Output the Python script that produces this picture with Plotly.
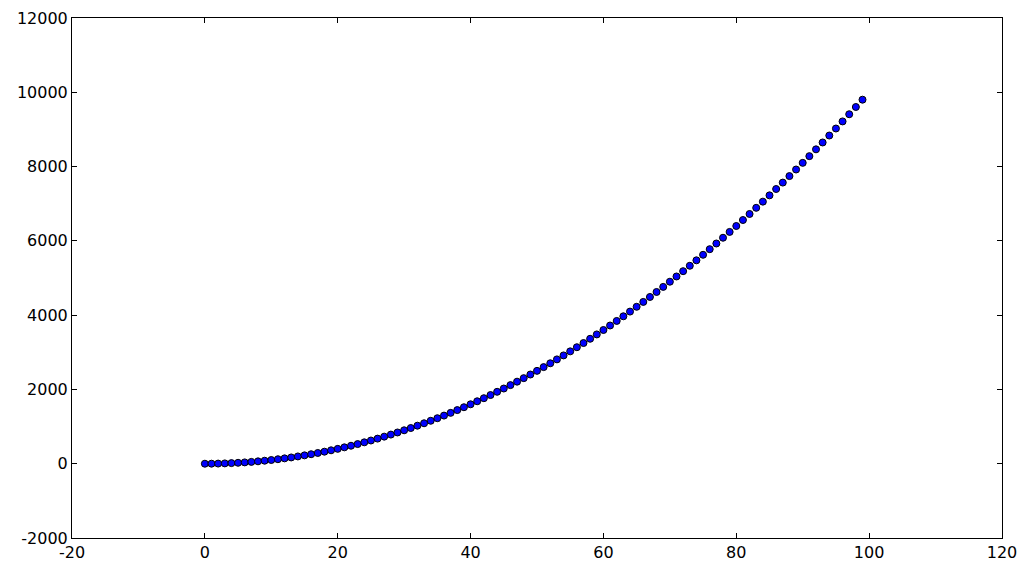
import plotly.graph_objects as go

# data (one point per integer x)
x_vals = list(range(0, 100))
y_vals = [
    0, 1, 4, 9, 16, 25, 36, 49, 64, 81,
    100, 121, 144, 169, 196, 225, 256, 289, 324, 361,
    400, 441, 484, 529, 576, 625, 676, 729, 784, 841,
    900, 961, 1024, 1089, 1156, 1225, 1296, 1369, 1444, 1521,
    1600, 1681, 1764, 1849, 1936, 2025, 2116, 2209, 2304, 2401,
    2500, 2601, 2704, 2809, 2916, 3025, 3136, 3249, 3364, 3481,
    3600, 3721, 3844, 3969, 4096, 4225, 4356, 4489, 4624, 4761,
    4900, 5041, 5184, 5329, 5476, 5625, 5776, 5929, 6084, 6241,
    6400, 6561, 6724, 6889, 7056, 7225, 7396, 7569, 7744, 7921,
    8100, 8281, 8464, 8649, 8836, 9025, 9216, 9409, 9604, 9801,
]

x_ticks = [-20, 0, 20, 40, 60, 80, 100, 120]
y_ticks = [-2000, 0, 2000, 4000, 6000, 8000, 10000, 12000]

fig = go.Figure()
fig.add_trace(go.Scatter(
    x=x_vals,
    y=y_vals,
    mode="markers",
    marker=dict(color="#0000ff", size=7, line=dict(color="black", width=1)),
    showlegend=False,
))

axis_style = dict(
    showgrid=False,
    zeroline=False,
    showline=True,
    linecolor="black",
    linewidth=1,
    mirror="ticks",
    ticks="inside",
    ticklen=5,
    tickcolor="black",
    automargin=False,
    tickfont=dict(family="DejaVu Sans", size=16, color="black"),
)

fig.update_xaxes(range=[-20, 120], tickvals=x_ticks,
                 ticktext=[str(v) for v in x_ticks], **axis_style)
fig.update_yaxes(range=[-2000, 12000], tickvals=y_ticks,
                 ticktext=[str(v) for v in y_ticks], **axis_style)

# page body adds an 8px offset, so the figure is a bit smaller than the window
fig.update_layout(
    width=1011,
    height=556,
    margin=dict(l=64, r=17, t=10, b=26),
    plot_bgcolor="white",
    paper_bgcolor="white",
)

fig.write_html("out.html")
